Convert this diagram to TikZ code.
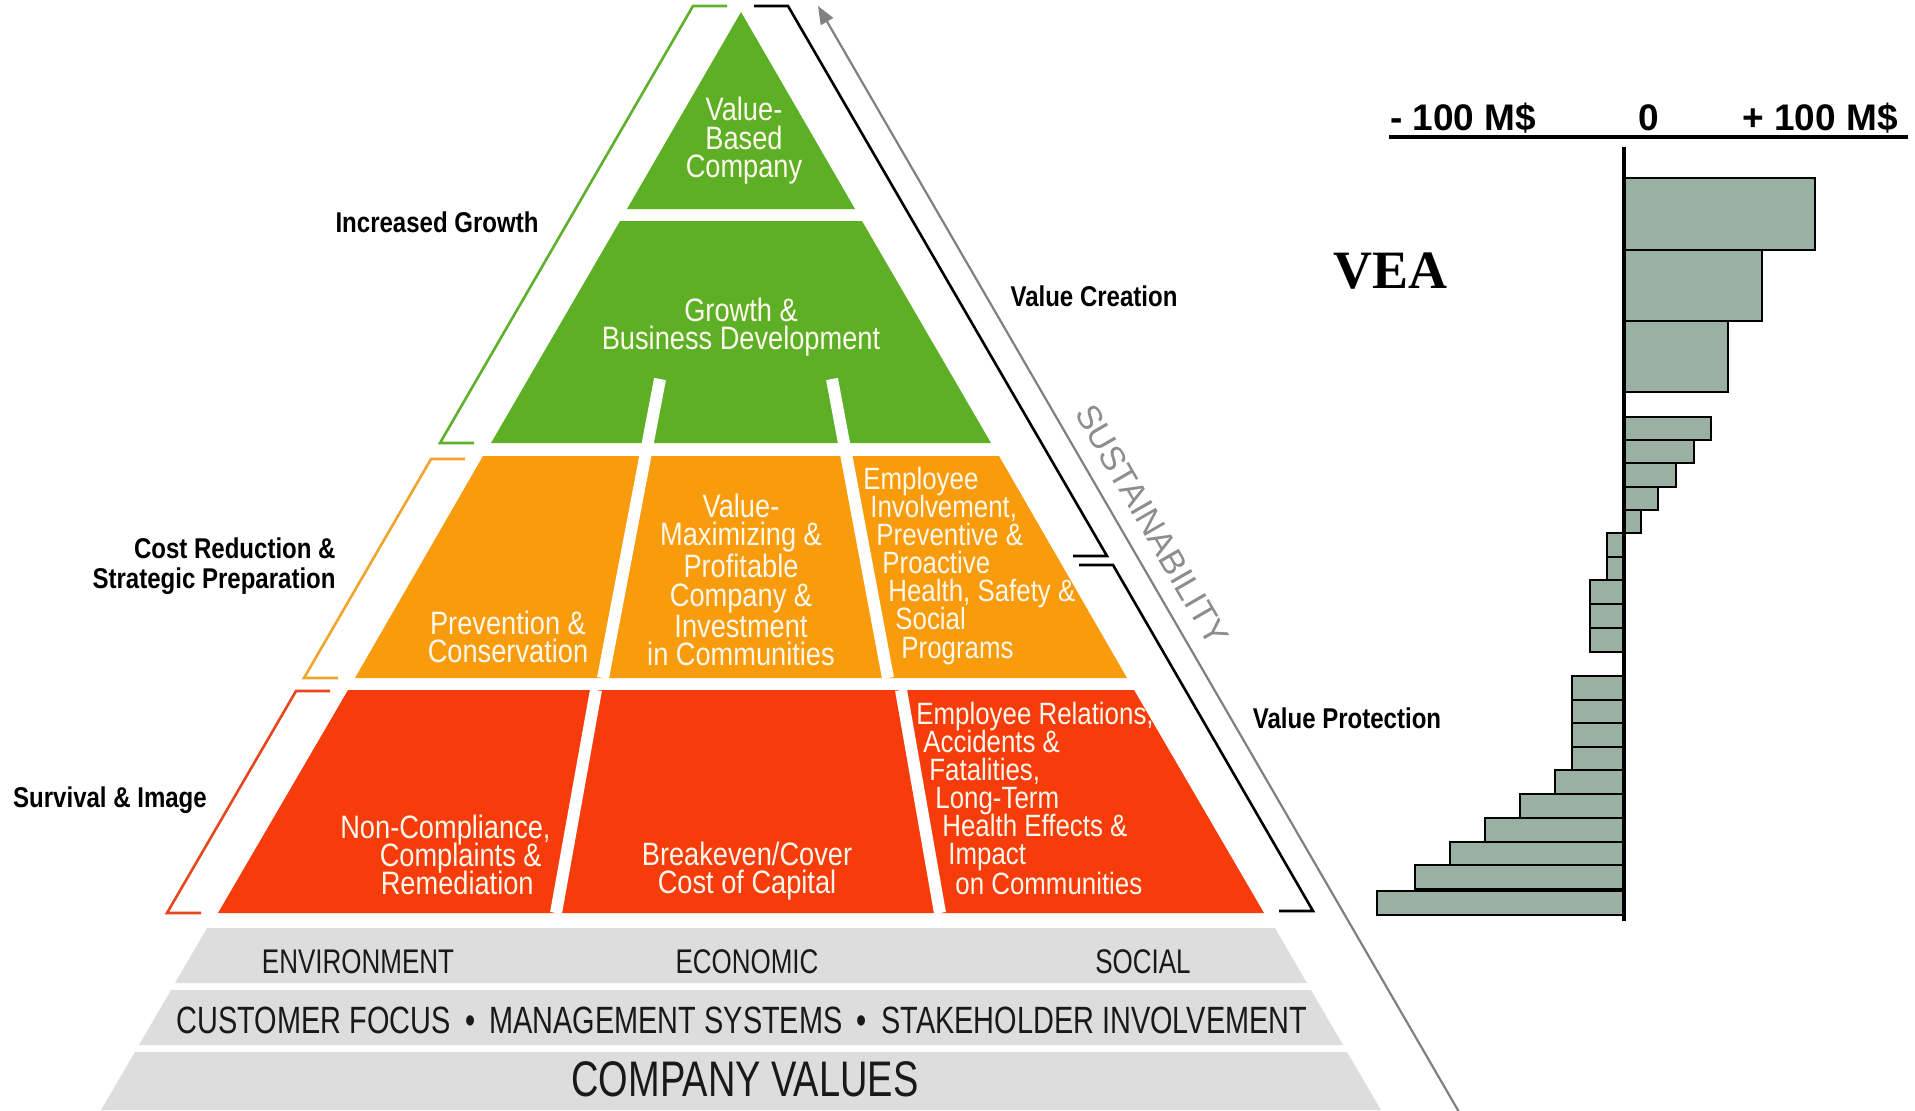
\documentclass[tikz,border=0pt]{standalone}
\usepackage{fontspec}
\setmainfont{Liberation Sans}
\newfontfamily\cnd{Liberation Sans}[FakeStretch=0.84]
\newfontfamily\cndn{Liberation Sans}[FakeStretch=0.76]
\newfontfamily\plainsans{Liberation Sans}
\newfontfamily\serifb{Liberation Serif}
\usetikzlibrary{arrows.meta}
\definecolor{grn}{HTML}{5DB026}
\definecolor{org}{HTML}{F89B0D}
\definecolor{rd}{HTML}{F63C0B}
\definecolor{bandc}{HTML}{DDDDDD}
\definecolor{barc}{HTML}{9AB0A3}
\definecolor{grnl}{HTML}{5FB02C}
\definecolor{orgl}{HTML}{EFA52B}
\definecolor{rdl}{HTML}{E8461D}
\definecolor{arrc}{HTML}{808080}
\definecolor{wtc}{HTML}{FFF8EC}
\begin{document}
\begin{tikzpicture}[x=0.5pt,y=-0.5pt,
  wtxt/.style={text=wtc,font=\cnd\fontsize{16.2}{14.2}\selectfont,inner sep=0pt,align=center},
  wline/.style={text=wtc,font=\cnd\fontsize{15.4}{14.2}\selectfont,inner sep=0pt,text height=9.5pt,text depth=2pt},
  lbl/.style={text=black,font=\cnd\bfseries\fontsize{14.3}{15.2}\selectfont,inner sep=0pt},
  bandtxt/.style={text=black!90,inner sep=0pt},
  gapline/.style={white,line width=6pt},
  brk/.style={line width=1.3pt},
  barbox/.style={fill=barc,draw=black,line width=1.4pt},
  axlbl/.style={font=\plainsans\bfseries\fontsize{18.5}{20}\selectfont,inner sep=0pt}]
\useasboundingbox[fill=white] (0,0) rectangle (1915,1110);
% ---------- pyramid tiers ----------
\fill[grn] (741,12) -- (855,209) -- (627,209) -- cycle;
\fill[grn] (620,221) -- (862,221) -- (991,443) -- (491,443) -- cycle;
\fill[org] (483,456) -- (999,456) -- (1127,678) -- (355,678) -- cycle;
\fill[rd] (348,690) -- (1134,690) -- (1264,913) -- (218,913) -- cycle;
% gaps
\draw[gapline] (660,379) -- (603,678);
\draw[gapline] (832,379) -- (888,678);
\draw[gapline] (596,690) -- (556,913);
\draw[gapline] (901,690) -- (940,913);
% gray bands
\fill[bandc] (207,928) -- (1275,928) -- (1307,983) -- (175,983) -- cycle;
\fill[bandc] (171,990) -- (1311,990) -- (1343,1045) -- (139,1045) -- cycle;
\fill[bandc] (135,1052) -- (1347,1052) -- (1381,1110) -- (101,1110) -- cycle;
% ---------- brackets ----------
\draw[brk,grnl] (727,6) -- (693,6) -- (440,443) -- (474,443);
\draw[brk,orgl] (465,459) -- (431,459) -- (304,678) -- (338,678);
\draw[brk,rdl] (330,691) -- (296,691) -- (167,913) -- (201,913);
\draw[brk,black] (754,6) -- (788,6) -- (1107,556) -- (1073,556);
\draw[brk,black] (1079,565) -- (1113,565) -- (1313,911) -- (1279,911);
% ---------- sustainability arrow ----------
\coordinate (arrS) at (1459,1112);
\coordinate (arrE) at (818,6);
\draw[arrc,line width=1.1pt,-{Triangle[length=9pt,width=7pt]}] (arrS) -- (arrE);
\node[text=arrc!90,font=\plainsans\fontsize{17}{18}\selectfont,rotate=-60,inner sep=0pt] (sust) at (1152,525) {SUSTAINABILITY};
% ---------- tier texts ----------
\node[wtxt] (vbc) at (744,141) {Value-\\Based\\Company};
\node[wtxt] (gbd) at (741,327) {Growth \&\\Business Development};
\node[wtxt] (pc) at (508,637) {Prevention \&\\Conservation};
\node[wtxt] (vmp) at (741,580) {Value-\\Maximizing \&\\Profitable\\Company \&\\Investment\\in Communities};
\foreach \t/\x/\y [count=\i] in {Employee/863/478,Involvement{,}/870/506,Preventive \&/876/534,Proactive/882/562,{Health, Safety \&}/888/590,Social/895/618,Programs/901/647}
  \node[wline,anchor=base west] (ei\i) at (\x,\y+11) {\t};
\foreach \t/\x/\y [count=\i] in {Non-Compliance{,}/551/827,Complaints \&/542/855,Remediation/534/883}
  \node[wline,font=\cnd\fontsize{16.2}{14.2}\selectfont,anchor=base east] (nc\i) at (\x,\y+11) {\t};
\node[wtxt] (bcc) at (747,871) {Breakeven/Cover\\Cost of Capital};
\foreach \t/\x/\y [count=\i] in {{Employee Relations,}/916/713,Accidents \&/923/741,Fatalities{,}/929/769,Long-Term/935/797,Health Effects \&/942/825,Impact/948/853,on Communities/955/883}
  \node[wline,anchor=base west] (er\i) at (\x,\y+11) {\t};
% ---------- side labels ----------
\node[lbl] (ig) at (437,222) {Increased Growth};
\node[lbl] (vc) at (1094,296) {Value Creation};
\node[lbl,align=right,anchor=east] (cr) at (336,566) {Cost Reduction \&\\Strategic Preparation};
\node[lbl] (si) at (110,800) {Survival \& Image};
\node[lbl] (vp) at (1347,718) {Value Protection};
% ---------- band texts ----------
\node[bandtxt,font=\cndn\fontsize{17.1}{18}\selectfont] (env) at (358,962) {ENVIRONMENT};
\node[bandtxt,font=\cndn\fontsize{17.1}{18}\selectfont] (eco) at (747,962) {ECONOMIC};
\node[bandtxt,font=\cndn\fontsize{17.1}{18}\selectfont] (soc) at (1143,962) {SOCIAL};
\node[bandtxt,font=\cndn\fontsize{19}{20}\selectfont] (cms) at (742,1020) {CUSTOMER FOCUS \,\textbullet\, MANAGEMENT SYSTEMS \,\textbullet\, STAKEHOLDER INVOLVEMENT};
\node[bandtxt,font=\cndn\fontsize{25}{26}\selectfont] (cv) at (745,1079) {COMPANY VALUES};
% ---------- VEA chart ----------
\node[font=\serifb\bfseries\fontsize{27}{28}\selectfont,inner sep=0pt] (vea) at (1390,271) {VEA};
\node[axlbl] (m100) at (1463,118) {- 100 M\$};
\node[axlbl] (zero) at (1649,118) {0};
\node[axlbl] (p100) at (1820,118) {+ 100 M\$};
\draw[line width=2pt] (1389,137) -- (1908,137);
\foreach \a/\b/\c in {178/250/1815,250/321/1762,321/392/1728,417/440/1711,440/463/1694,463/487/1676,487/510/1658,510/533/1641,
  533/557/1607,557/580/1607,580/604/1590,604/628/1590,628/652/1590,
  676/700/1572,700/723/1572,723/747/1572,747/770/1572,770/794/1555,794/818/1520,818/842/1485,842/865/1450,865/889/1415,891/915/1377}
  \draw[barbox] (1624,\a) rectangle (\c,\b);
\draw[line width=2.2pt] (1624,147) -- (1624,921);
\end{tikzpicture}
\end{document}
